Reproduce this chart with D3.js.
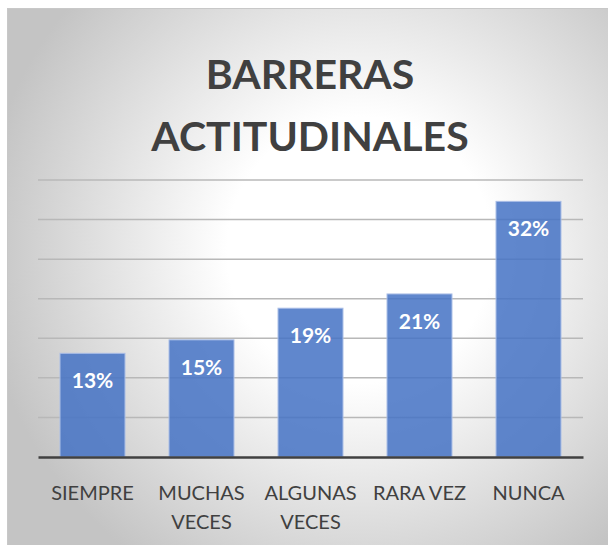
<!DOCTYPE html>
<html>
<head>
<meta charset="utf-8">
<script src="https://cdn.jsdelivr.net/npm/d3@7"></script>
<style>
  body { margin: 0; background: #fff; }
  svg { display: block; }
</style>
</head>
<body>
<div id="chart"></div>
<script>
// Chart data (bar heights, labels rounded)
var categories = ["SIEMPRE", "MUCHAS VECES", "ALGUNAS VECES", "RARA VEZ", "NUNCA"];
var values = [13.1, 14.8, 18.8, 20.6, 32.3];
var gridTicks = [0, 5, 10, 15, 20, 25, 30, 35];
var titleLines = ["BARRERAS", "ACTITUDINALES"];

// Set up SVG params
var svgWdt = 608;
var svgHgt = 545;

var plot = { left: 38, right: 583, top: 180, bottom: 457 };

var svg = d3.select("#chart").append("svg")
    .attr("width", svgWdt)
    .attr("height", svgHgt);

// Background gradient
var defs = svg.append("defs");
var grad = defs.append("radialGradient")
    .attr("id", "bg")
    .attr("gradientUnits", "userSpaceOnUse")
    .attr("cx", 360).attr("cy", 250).attr("r", 380);
grad.append("stop").attr("offset", "0%").attr("stop-color", "#ffffff");
grad.append("stop").attr("offset", "35%").attr("stop-color", "#ffffff");
grad.append("stop").attr("offset", "100%").attr("stop-color", "#c4c4c4");

svg.append("rect")
    .attr("x", 7.5).attr("y", 8.5)
    .attr("width", svgWdt - 7).attr("height", svgHgt - 8)
    .attr("fill", "url(#bg)")
    .attr("stroke", "#c8c8c8")
    .attr("stroke-width", 1);

// Title
svg.append("text")
    .attr("x", 310)
    .attr("text-anchor", "middle")
    .attr("font-family", "Lato, 'Open Sans', sans-serif")
    .attr("font-weight", "bold")
    .attr("font-size", 41)
    .attr("fill", "#404040")
    .selectAll("tspan").data(titleLines)
    .enter().append("tspan")
        .attr("x", 310)
        .attr("y", (d, i) => 89 + i * 62)
        .text(d => d);

// Scales
var x = d3.scaleBand()
    .domain(categories)
    .range([plot.left, plot.right])
    .paddingInner(0.404)
    .paddingOuter(0.202);

var y = d3.scaleLinear()
    .domain([0, 35])
    .range([plot.bottom, plot.top]);

// Gridlines
svg.append("g")
    .selectAll("line").data(gridTicks.slice(1))
    .enter().append("line")
        .attr("x1", plot.left).attr("x2", plot.right)
        .attr("y1", d => y(d)).attr("y2", d => y(d))
        .attr("stroke", "#b8b8b8")
        .attr("stroke-width", 1.5);

// Bars
svg.append("g")
    .selectAll("rect").data(values)
    .enter().append("rect")
        .attr("x", (d, i) => x(categories[i]))
        .attr("y", d => y(d))
        .attr("width", x.bandwidth())
        .attr("height", d => y(0) - y(d))
        .attr("fill", "#4472c4")
        .attr("fill-opacity", 0.85)
        .attr("stroke", "#a9bde6")
        .attr("stroke-width", 1);

// Value labels
svg.append("g")
    .selectAll("text").data(values)
    .enter().append("text")
        .attr("x", (d, i) => x(categories[i]) + x.bandwidth() / 2)
        .attr("y", d => y(d) + 35)
        .attr("text-anchor", "middle")
        .attr("font-family", "Lato, 'Open Sans', sans-serif")
        .attr("font-weight", "bold")
        .attr("font-size", 21)
        .attr("fill", "#ffffff")
        .text(d => Math.round(d) + "%");

// X axis
var xAxis = svg.append("g")
    .attr("transform", `translate(0, ${plot.bottom})`)
    .call(d3.axisBottom(x).tickSize(0).tickFormat(""));
xAxis.select(".domain")
    .attr("stroke", "#404040")
    .attr("stroke-width", 2.5);

// Category labels, wrapped onto two lines
var lbls = svg.append("g")
    .selectAll("text").data(categories)
    .enter().append("text")
        .attr("text-anchor", "middle")
        .attr("font-family", "Lato, 'Open Sans', sans-serif")
        .attr("font-size", 20)
        .attr("fill", "#404040");
lbls.each(function(d) {
    var parts = d === "RARA VEZ" ? [d] : d.split(" ");
    var cx = x(d) + x.bandwidth() / 2;
    d3.select(this).selectAll("tspan").data(parts)
        .enter().append("tspan")
            .attr("x", cx)
            .attr("y", (p, i) => 500 + i * 29)
            .text(p => p);
});
</script>
</body>
</html>
